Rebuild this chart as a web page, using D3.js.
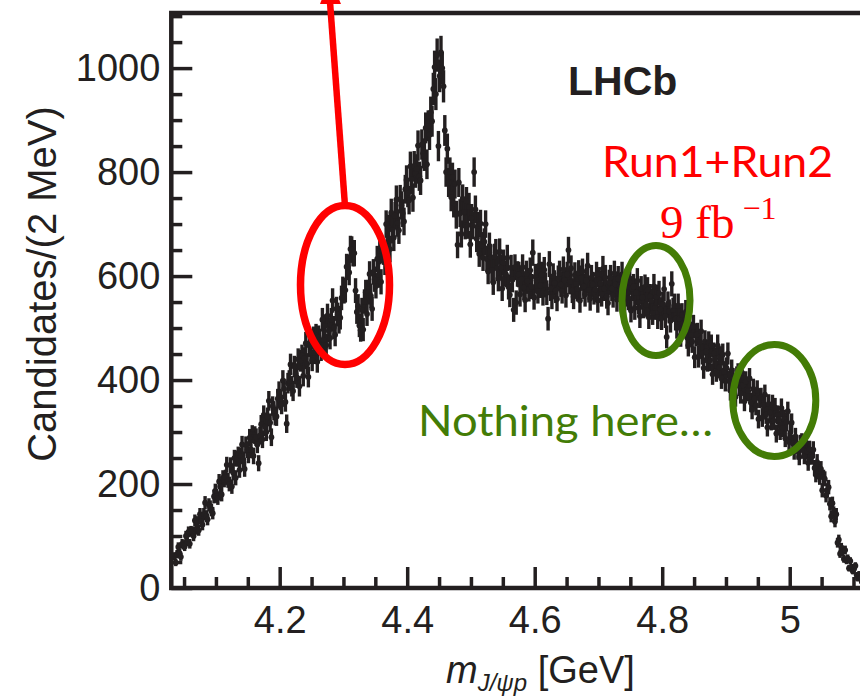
<!DOCTYPE html>
<html><head><meta charset="utf-8">
<script src="https://cdn.jsdelivr.net/npm/d3@7"></script>
<style>body{margin:0;background:#fff}svg{display:block}</style>
</head><body>
<svg id="c" width="860" height="700"></svg>
<script>
// ---- data ----
const binStart = 4.035;   // centre of first 2 MeV bin [GeV]
const binWidth = 0.002;   // GeV
const counts = [
61,49,65,79,67,60,85,83,80,100,
90,108,85,109,108,100,130,113,127,111,
142,128,122,142,164,138,132,160,156,150,
144,176,187,177,173,205,195,180,212,208,
213,237,207,200,236,195,222,250,212,249,
256,227,254,276,247,229,275,266,256,289,
266,296,254,294,290,276,240,293,315,286,
333,310,300,329,360,318,290,350,341,331,
330,364,378,361,353,399,383,358,316,394,
399,430,388,379,426,412,405,440,388,437,
447,408,442,471,431,406,466,452,438,481,
452,486,435,483,477,458,516,477,504,467,
524,495,481,516,553,501,487,537,526,512,
520,558,575,571,573,618,617,607,652,651,
644,644,572,531,542,505,496,535,497,551,
569,527,569,604,562,537,608,594,581,633,
602,648,589,650,647,627,700,657,692,652,
722,689,674,716,747,702,688,748,736,721,
705,767,785,760,746,811,786,751,812,798,
806,851,792,784,853,836,831,885,815,889,
872,915,898,960,1002,950,1025,850,985,1030,
1000,965,880,800,845,780,800,752,790,740,
777,718,660,780,721,681,749,723,697,744,
698,733,661,712,697,800,728,672,697,643,
701,659,635,666,700,633,609,658,636,612,
588,637,646,615,595,647,617,576,626,605,
603,635,579,564,616,593,535,617,549,604,
603,565,594,617,578,554,605,590,575,611,
580,645,559,599,592,571,620,582,603,567,
612,583,568,518,623,576,560,600,587,572,
556,596,605,584,571,613,592,563,603,650,
589,615,572,560,602,585,575,606,553,596,
609,580,565,592,620,573,557,597,584,569,
574,603,553,593,586,565,614,576,597,561,
548,588,597,576,563,605,584,555,595,582,
578,603,559,546,587,569,558,588,534,576,
580,539,568,591,550,523,576,559,542,579,
545,574,521,561,552,529,580,539,560,521,
567,536,519,546,575,523,483,547,532,514,
585,535,543,518,502,543,518,486,525,509,
506,531,482,467,508,487,474,503,444,487,
488,445,473,494,451,423,474,455,437,472,
438,466,411,451,441,417,466,424,444,403,
449,416,398,423,451,398,380,419,403,384,
368,406,412,389,374,414,390,359,397,381,
379,403,357,343,383,364,351,380,325,365,
366,328,352,372,334,309,354,338,321,353,
322,347,297,333,324,302,346,308,325,288,
319,340,281,299,318,278,263,291,278,263,
252,278,281,265,254,280,263,241,267,255,
253,266,231,218,242,225,213,229,188,213,
210,178,188,194,162,138,163,145,128,142,
87,93,66,78,70,56,73,53,57,38,
52,40,32,37,43,25,18,27,20,12,
14,9,11,6,4,2
];
const xMajorTicks = [4.2, 4.4, 4.6, 4.8, 5.0];
const xMinorTicks = [4.05,4.1,4.15,4.25,4.3,4.35,4.45,4.5,4.55,4.65,4.7,4.75,4.85,4.9,4.95,5.05,5.1];
const yMajorTicks = [0, 200, 400, 600, 800, 1000];
const yMinorTicks = [50,100,150,250,300,350,450,500,550,650,700,750,850,900,950,1050,1100];
const xTitle = ["m", "J/ψp", " [GeV]"];
const yTitle = "Candidates/(2 MeV)";

// ---- scales ----
const ink = "#231f20";
const svg = d3.select("#c");
const x = d3.scaleLinear().domain([4.03, 5.13]).range([171.3, 872.6]);
const y = d3.scaleLinear().domain([0, 1106]).range([588, 13]);

const data = counts.map((c, i) => ({m: binStart + i * binWidth, c}));

// ---- data points with error bars ----
const g = svg.append("g");
g.selectAll("line.err").data(data).join("line")
  .attr("x1", d => x(d.m)).attr("x2", d => x(d.m))
  .attr("y1", d => y(d.c - Math.sqrt(d.c))).attr("y2", d => y(d.c + Math.sqrt(d.c)))
  .attr("stroke", ink).attr("stroke-width", 3.4);
g.selectAll("circle").data(data).join("circle")
  .attr("cx", d => x(d.m)).attr("cy", d => y(d.c)).attr("r", 2.9).attr("fill", ink);

// ---- axes ----
function styleAxis(sel){
  sel.select(".domain").remove();
  sel.selectAll(".tick line").attr("stroke", ink).attr("stroke-width", 3.5);
  sel.selectAll(".tick text").attr("fill", ink)
     .attr("font-family", "'Liberation Sans', Arial, sans-serif").attr("font-size", 38);
}
svg.append("g").attr("transform", "translate(0,588)")
  .call(d3.axisBottom(x).tickValues(xMajorTicks).tickFormat(d3.format("~g")).tickSize(-21).tickPadding(18))
  .call(styleAxis);
svg.append("g").attr("transform", "translate(0,588)")
  .call(d3.axisBottom(x).tickValues(xMinorTicks).tickFormat("").tickSize(-11))
  .call(styleAxis);
svg.append("g").attr("transform", "translate(171.3,0)")
  .call(d3.axisLeft(y).tickValues(yMajorTicks).tickFormat(d3.format("d")).tickSize(-21).tickPadding(11))
  .call(styleAxis);
svg.append("g").attr("transform", "translate(171.3,0)")
  .call(d3.axisLeft(y).tickValues(yMinorTicks).tickFormat("").tickSize(-11))
  .call(styleAxis);

// frame
svg.append("rect").attr("x", x(4.03)).attr("y", y(1106))
  .attr("width", x(5.13) - x(4.03)).attr("height", y(0) - y(1106))
  .attr("fill", "none").attr("stroke", ink).attr("stroke-width", 4.5);

// axis titles
svg.append("text").attr("transform", "translate(56,284) rotate(-90)")
  .attr("text-anchor", "middle").attr("fill", ink)
  .attr("font-family", "'Liberation Sans', Arial, sans-serif").attr("font-size", 40)
  .text(yTitle);
const xt = svg.append("text").attr("x", 446).attr("y", 683).attr("fill", ink)
  .attr("font-family", "'Liberation Sans', Arial, sans-serif").attr("font-size", 38);
xt.append("tspan").attr("font-style", "italic").text(xTitle[0]);
xt.append("tspan").attr("font-style", "italic").attr("font-size", 24).attr("dy", 8).text(xTitle[1]);
xt.append("tspan").attr("dy", -8).text(xTitle[2]);

// LHCb label
svg.append("text").attr("x", 568).attr("y", 95).attr("fill", ink)
  .attr("font-family", "'Liberation Sans', Arial, sans-serif").attr("font-weight", "bold")
  .attr("font-size", 41).text("LHCb");

// ---- annotations ----
const red = "#ff0000", green = "#437c06";
svg.append("ellipse").attr("cx", 345).attr("cy", 285).attr("rx", 44.5).attr("ry", 79.5)
  .attr("fill", "none").attr("stroke", red).attr("stroke-width", 7.5);
svg.append("line").attr("x1", 345).attr("y1", 206).attr("x2", 330).attr("y2", 2)
  .attr("stroke", red).attr("stroke-width", 6.5);
svg.append("polygon").attr("points", "330,-22 320,4 341,4").attr("fill", red);

svg.append("ellipse").attr("cx", 656).attr("cy", 300.5).attr("rx", 34).attr("ry", 55)
  .attr("fill", "none").attr("stroke", green).attr("stroke-width", 7);
svg.append("ellipse").attr("cx", 774.3).attr("cy", 400.5).attr("rx", 41.5).attr("ry", 56)
  .attr("fill", "none").attr("stroke", green).attr("stroke-width", 7);

svg.append("text").attr("x", 418).attr("y", 436).attr("fill", green)
  .attr("font-family", "Lato, 'Open Sans', sans-serif").attr("font-size", 43)
  .attr("textLength", 295).attr("lengthAdjust", "spacingAndGlyphs").text("Nothing here…");

svg.append("text").attr("x", 602).attr("y", 176.7).attr("fill", red)
  .attr("font-family", "Lato, 'Open Sans', sans-serif").attr("font-size", 42)
  .attr("textLength", 231).attr("lengthAdjust", "spacingAndGlyphs").text("Run1+Run2");
const lum = svg.append("text").attr("x", 660).attr("y", 238).attr("fill", red)
  .attr("font-family", "'Liberation Serif', 'DejaVu Serif', serif").attr("font-size", 47);
lum.append("tspan").text("9 fb");
lum.append("tspan").attr("dx", 8).attr("dy", -19).attr("font-size", 32).text("−1");
</script>
</body></html>
